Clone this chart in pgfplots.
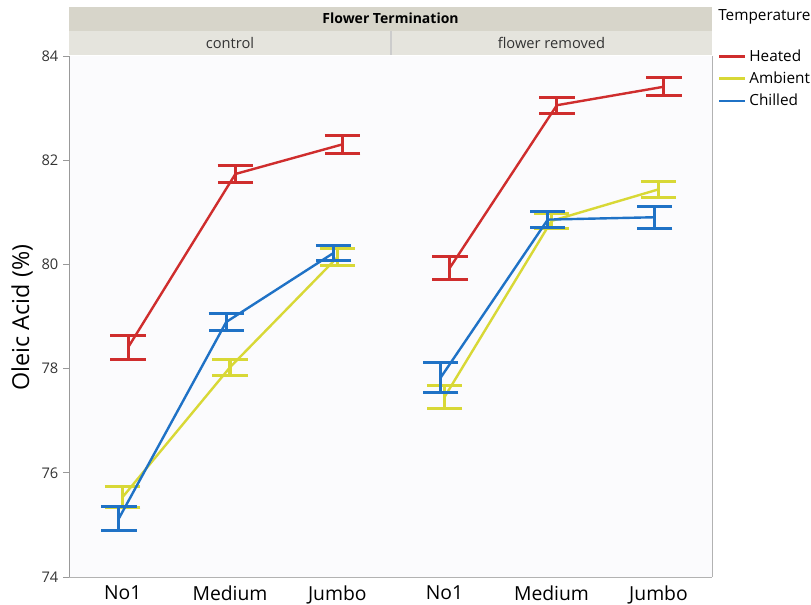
\documentclass[border=0pt]{standalone}
\usepackage{pgfplots}
\pgfplotsset{compat=1.18}
\usepackage{fontspec}
\setmainfont{Open Sans}
\definecolor{heated}{HTML}{CF2D2D}
\definecolor{ambient}{HTML}{D8D836}
\definecolor{chilled}{HTML}{1F72C6}
\definecolor{bandtop}{HTML}{D7D5CA}
\definecolor{bandsub}{HTML}{E5E4DD}
\definecolor{plotbg}{HTML}{FBFBFD}
\definecolor{tickgray}{HTML}{333333}

\pgfplotsset{
  panel/.style={
    scale only axis, height=390.75pt,
    xmin=-0.5, xmax=2.5, ymin=74, ymax=84,
    xtick={0,1,2}, xticklabels={No1,Medium,Jumbo},
    ytick={74,76,...,84},
    axis line style={draw=none},
    axis background/.style={fill=plotbg},
    major x tick style={draw=none},
    x tick label style={font=\fontsize{14.5}{15}\selectfont, text=black, yshift=1.5pt},
    y tick label style={font=\fontsize{11}{11}\selectfont, text=tickgray},
    /pgf/number format/assume math mode=true,
    tick align=outside, major tick length=4.5pt,
    clip=false,
    every axis plot/.append style={line width=1.8pt},
    error bars/y dir=both,
    error bars/y explicit,
    error bars/error mark=|,
    error bars/error bar style={line width=2.3pt},
    error bars/error mark options={line width=2.3pt, mark size=13.3pt},
  },
}

\begin{document}
\begin{tikzpicture}
\useasboundingbox (0,0) rectangle (608.25pt,-453.75pt);

% header bands
\fill[bandtop] (51.75pt,-5.25pt) rectangle (534pt,-23.25pt);
\fill[bandsub] (51.75pt,-23.25pt) rectangle (534pt,-41.6pt);
\draw[white!80!black, line width=0.8pt] (293.25pt,-23.25pt) -- (293.25pt,-41.6pt);
\node[font=\fontsize{10.5}{12}\selectfont\bfseries] at (292.9pt,-14pt) {Flower Termination};
\node[font=\fontsize{11}{12}\selectfont, text=tickgray] at (172.5pt,-32.4pt) {control};
\node[font=\fontsize{11}{12}\selectfont, text=tickgray] at (413.6pt,-32.4pt) {flower removed};
\node[font=\fontsize{11.5}{13}\selectfont, anchor=west, inner sep=0pt] at (538.5pt,-12.9pt) {Temperature};

% control
\begin{axis}[panel, at={(51.75pt,-432.75pt)}, anchor=south west, width=241.5pt,
  ylabel={Oleic Acid (\%)},
  every axis y label/.style={at={(axis description cs:-0.146,0.498)}, rotate=90, anchor=center,
    font=\fontsize{17.5}{18}\selectfont},
  major y tick style={draw=black!40, line width=0.6pt}]
\addplot[heated] coordinates {
  (0.05,78.405) +- (0,0.225)
  (1.05,81.735) +- (0,0.165)
  (2.05,82.305) +- (0,0.175)
};
\addplot[ambient] coordinates {
  (0.00,75.535) +- (0,0.195)
  (1.00,78.025) +- (0,0.155)
  (2.00,80.135) +- (0,0.165)
};
\addplot[chilled] coordinates {
  (-0.035,75.125) +- (0,0.235)
  (0.965,78.895) +- (0,0.165)
  (1.965,80.220) +- (0,0.150)
};
\draw[black!40, line width=0.7pt] (rel axis cs:0,0) -- (rel axis cs:0,1);
\draw[black!30, line width=0.7pt] (rel axis cs:0,0) -- (rel axis cs:1,0);
\draw[black!18, line width=0.7pt] (rel axis cs:1,0) -- (rel axis cs:1,1);
\end{axis}

% flower removed
\begin{axis}[panel, at={(293.25pt,-432.75pt)}, anchor=south west, width=240.75pt,
  yticklabels={}, major y tick style={draw=none},
  legend style={at={(1.0187,1.018)}, anchor=north west, draw=none, fill=none,
    font=\fontsize{11.5}{13}\selectfont, row sep=2.5pt, inner sep=0pt},
  legend cell align=left,
  legend image code/.code={\draw[#1, line width=1.8pt] (0pt,0pt) -- (19.5pt,0pt);}]
\addplot[heated] coordinates {
  (0.05,79.935) +- (0,0.225)
  (1.05,83.055) +- (0,0.155)
  (2.05,83.410) +- (0,0.170)
};
\addlegendentry{Heated}
\addplot[ambient] coordinates {
  (0.00,77.455) +- (0,0.215)
  (1.00,80.835) +- (0,0.145)
  (2.00,81.440) +- (0,0.150)
};
\addlegendentry{Ambient}
\addplot[chilled] coordinates {
  (-0.035,77.830) +- (0,0.290)
  (0.965,80.860) +- (0,0.150)
  (1.965,80.905) +- (0,0.215)
};
\addlegendentry{Chilled}
\draw[black!30, line width=0.7pt] (rel axis cs:0,0) -- (rel axis cs:1,0);
\draw[black!30, line width=0.7pt] (rel axis cs:1,0) -- (rel axis cs:1,1);
\end{axis}
\end{tikzpicture}
\end{document}
